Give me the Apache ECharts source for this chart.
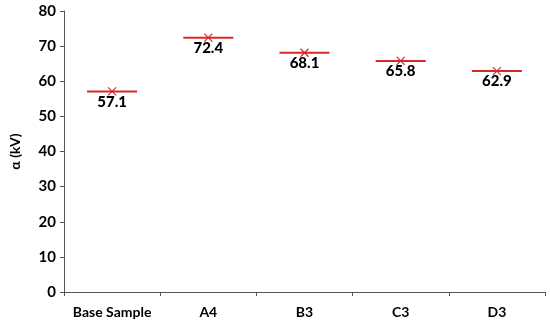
<!DOCTYPE html>
<html>
<head>
<meta charset="utf-8">
<script src="https://cdn.jsdelivr.net/npm/echarts@6/dist/echarts.min.js"></script>
<style>
  html, body { margin: 0; padding: 0; background: #fff; }
  #chart { width: 550px; height: 324px; }
</style>
</head>
<body>
<div id="chart"></div>
<script>
var categories = ['Base Sample', 'A4', 'B3', 'C3', 'D3'];
var alphaValues = [57.1, 72.4, 68.1, 65.8, 62.9];
var yTicks = [0, 10, 20, 30, 40, 50, 60, 70, 80];

var chart = echarts.init(document.getElementById('chart'));
var red = '#d42a2a';
var font = 'Lato, "Liberation Sans", sans-serif';

function renderMarker(params, api) {
  var p = api.coord([api.value(0), api.value(1)]);
  var half = 25, s = 4;
  return {
    type: 'group',
    children: [
      { type: 'line', shape: { x1: p[0] - half, y1: p[1], x2: p[0] + half, y2: p[1] },
        style: { stroke: red, lineWidth: 2 } },
      { type: 'line', shape: { x1: p[0] - s, y1: p[1] - s, x2: p[0] + s, y2: p[1] + s },
        style: { stroke: red, lineWidth: 1.2 } },
      { type: 'line', shape: { x1: p[0] - s, y1: p[1] + s, x2: p[0] + s, y2: p[1] - s },
        style: { stroke: red, lineWidth: 1.2 } },
      { type: 'text', x: p[0], y: p[1] + 3,
        style: { text: api.value(1).toFixed(1), fill: '#000', font: '900 15px ' + font,
                 align: 'center', verticalAlign: 'top' } }
    ]
  };
}

chart.setOption({
  animation: false,
  grid: { left: 56, right: 5, top: 11, bottom: 32 },
  xAxis: {
    type: 'category',
    data: categories,
    boundaryGap: true,
    axisLine: { lineStyle: { color: '#555', width: 1 } },
    axisTick: { show: true, length: 4, lineStyle: { color: '#555' } },
    axisLabel: { interval: 0, color: '#000', fontFamily: font, fontWeight: 'bold', fontSize: 14, margin: 13 }
  },
  yAxis: {
    type: 'value',
    min: yTicks[0],
    max: yTicks[yTicks.length - 1],
    interval: 10,
    name: 'α (kV)',
    nameLocation: 'middle',
    nameGap: 42,
    nameTextStyle: { color: '#000', fontFamily: font, fontWeight: 'bold', fontSize: 14 },
    axisLine: { show: true, lineStyle: { color: '#555', width: 1 } },
    axisTick: { show: true, length: 4, lineStyle: { color: '#555' } },
    splitLine: { show: false },
    axisLabel: { color: '#000', fontFamily: font, fontWeight: 'bold', fontSize: 15, margin: 8 }
  },
  series: [{
    type: 'custom',
    renderItem: renderMarker,
    data: alphaValues.map(function (v, i) { return [i, v]; })
  }]
});
</script>
</body>
</html>
